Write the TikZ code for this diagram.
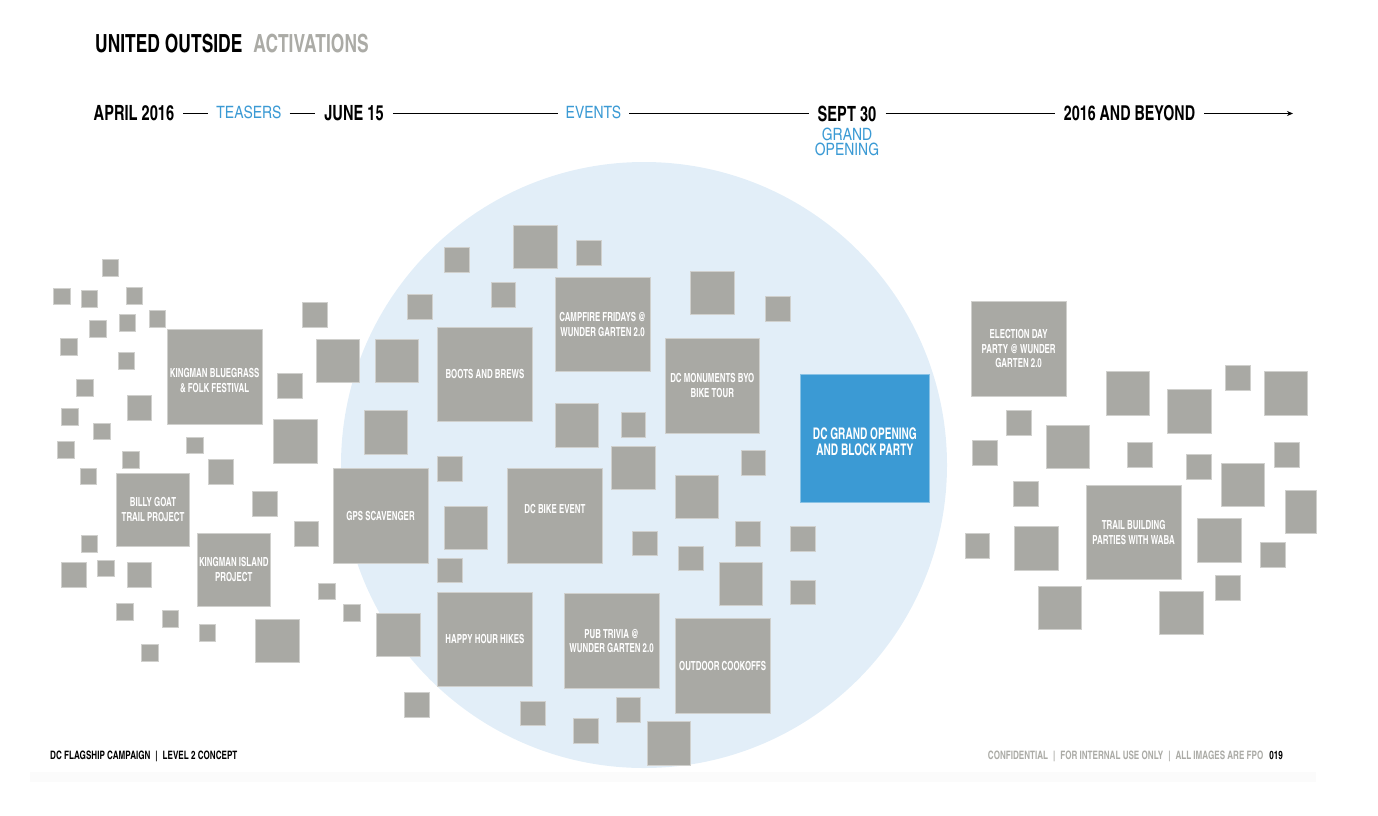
\documentclass[tikz,border=0pt]{standalone}
\usepackage{fontspec}
\setmainfont{texgyreheroscn}[Extension=.otf,UprightFont=*-regular,BoldFont=*-bold,FakeStretch=0.85]
\newfontfamily\widefont{texgyreheroscn}[Extension=.otf,UprightFont=*-regular,BoldFont=*-bold]
\newfontfamily\boxfont{texgyreheroscn}[Extension=.otf,UprightFont=*-bold,FakeStretch=0.77]
\usetikzlibrary{positioning,arrows.meta}
\definecolor{boxgray}{RGB}{169,169,164}
\definecolor{circblue}{RGB}{226,238,248}
\definecolor{mainblue}{RGB}{59,154,212}
\definecolor{titlegray}{RGB}{171,171,166}
\tikzset{
  box/.style={fill=boxgray, draw=boxgray!55!white, line width=0.5pt, anchor=north west,
    inner sep=0pt, text=white, align=center, font=\boxfont\fontsize{12.5}{14.5}\selectfont},
  sbox/.style={box, minimum size=16.5pt},
  mbox/.style={box, minimum size=24.5pt},
  lbox/.style={box, minimum size=43.3pt},
  gbox/.style={box, minimum size=73pt},
  ebox/.style={box, minimum size=94.7pt},
  stage/.style={inner xsep=9pt, inner ysep=0pt, font=\bfseries\fontsize{21}{21}\selectfont},
  phase/.style={inner xsep=8pt, inner ysep=0pt, text=mainblue, font=\widefont\fontsize{17}{16}\selectfont},
  tline/.style={line width=1.2pt},
}
\begin{document}
\begin{tikzpicture}[x=1pt,y=-1pt]
    \useasboundingbox (0,0) rectangle (1378,815);
    % backdrop
    \path[fill=circblue](644,465) circle[radius=303pt];
    \path[fill=black!1.5](30,772) rectangle (1316,782);
    % title
    \node[anchor=base west, inner sep=0pt, font=\bfseries\fontsize{25}{25}\selectfont] (title) at (95,52)
      {UNITED OUTSIDE\hspace{11pt}\textcolor{titlegray}{ACTIVATIONS}};
    % timeline
    \node[stage] (april) at (134,113.5) {APRIL 2016};
    \node[phase] (teasers) at (249,112.5) {TEASERS};
    \node[stage] (june) at (354,113.5) {JUNE 15};
    \node[phase] (events) at (593.5,112.5) {EVENTS};
    \node[stage] (sept) at (847,113.5) {SEPT 30};
    \node[phase, align=center, font=\widefont\fontsize{17}{15.5}\selectfont] (grand) at (847,142) {GRAND\\OPENING};
    \node[stage, font=\bfseries\fontsize{20.5}{21}\selectfont] (beyond) at (1129.5,113.5) {2016 AND BEYOND};
    \coordinate (end) at (1293,113.5);
    \path[draw, tline](april.east)to(april.east -| teasers.west);
    \path[draw, tline](teasers.east |- april.east)to(april.east -| june.west);
    \path[draw, tline](june.east)to(june.east -| events.west);
    \path[draw, tline](events.east |- june.east)to(june.east -| sept.west);
    \path[draw, tline](sept.east)to(beyond.west);
    \path[draw, tline, -{Stealth[length=6pt,width=5pt]}](beyond.east)to(end);
    % small squares
    \foreach \x/\y [count=\i] in {101.7/259.3, 53.3/287.7, 80.7/290, 125.7/287.3, 89/320, 118.7/314.3,
      148.7/310.3, 60/338, 117.7/352.3, 76.3/379.3, 61.3/408.3, 93.3/422.7, 57.3/441, 122/451.3,
      186/436.7, 79.7/467.7, 80.7/535, 97.3/559.7, 116/603.3, 161.7/610.3, 198.7/624.3, 141/644.3,
      318/582.7, 343/604.3}
      \node[sbox] (s\i) at (\x,\y) {};
    % medium squares
    \foreach \x/\y [count=\i] in {126.7/395, 208/459.3, 252.3/491.3, 277.3/373.3, 302.3/302.3,
      293.7/521.3, 61.3/562.3, 126.7/562.3, 407.3/294, 444/247.3, 576.3/240.3, 490.7/282,
      620.7/412.3, 437.3/456, 437.3/557.7, 632/530.7, 735/521, 790/526.3, 678/545.7, 790/579.7,
      740.7/450, 404/692.3, 520/700.7, 615.7/697, 573.3/718, 765.3/296,
      1225.3/365, 1006/410.3, 972.3/440, 1127.3/442, 1186/454, 1274/442, 1013.3/481,
      964.7/533, 1260.3/542.3, 1215/575.3}
      \node[mbox] (m\i) at (\x,\y) {};
    % large squares
    \foreach \x/\y [count=\i] in {273.3/419.3, 316/339, 375/339, 363.7/410.3, 513.3/225, 555/403.3,
      611.3/446, 444/505.7, 675/475, 718.7/562, 376.3/613, 647/721.3, 690.3/271, 255.3/619,
      1105.7/371.3, 1167.3/389.3, 1263.7/371.3, 1045.7/424.7, 1220.7/462.7, 1014.3/526.3,
      1197.3/518.3, 1038/586, 1159.3/591}
      \node[lbox] (l\i) at (\x,\y) {};
    \node[lbox, minimum width=31pt] (edge) at (1285.3,489.7) {};
    % teasers
    \node[ebox] (bluegrass) at (167,329.3) {\\[2pt]KINGMAN BLUEGRASS\\\& FOLK FESTIVAL};
    \node[gbox] (billygoat) at (116.3,472.7) {BILLY GOAT\\TRAIL PROJECT};
    \node[gbox] (island) at (197,532.7) {KINGMAN ISLAND\\PROJECT};
    % events
    \node[ebox] (boots) at (437.3,326.7) {BOOTS AND BREWS};
    \node[ebox] (campfire) at (555,276.7) {CAMPFIRE FRIDAYS @\\WUNDER GARTEN 2.0};
    \node[ebox] (monuments) at (664.7,338) {DC MONUMENTS BYO\\BIKE TOUR};
    \node[ebox] (gps) at (333,468.3) {GPS SCAVENGER};
    \node[ebox] (bike) at (507.3,468.3) {DC BIKE EVENT\\[0pt]};
    \node[ebox] (hikes) at (437.3,591.7) {HAPPY HOUR HIKES};
    \node[ebox] (trivia) at (564,593.3) {PUB TRIVIA @\\WUNDER GARTEN 2.0};
    \node[ebox] (cookoffs) at (675,618) {OUTDOOR COOKOFFS};
    % grand opening
    \node[box, minimum size=128.7pt, fill=mainblue, draw=mainblue!60!white,
      font=\boxfont\fontsize{16}{15.5}\selectfont] (opening) at (800.3,373.7)
      {\\[3pt]DC GRAND OPENING\\AND BLOCK PARTY};
    % beyond
    \node[ebox] (election) at (971,301) {ELECTION DAY\\PARTY @ WUNDER\\GARTEN 2.0};
    \node[ebox] (trail) at (1086,484.7) {TRAIL BUILDING\\PARTIES WITH WABA};
    % footer
    \node[anchor=base west, inner sep=0pt, font=\bfseries\fontsize{11.6}{11}\selectfont] (campaign) at (50,759)
      {DC FLAGSHIP CAMPAIGN\hspace{5pt}|\hspace{5pt}LEVEL 2 CONCEPT};
    \node[anchor=base east, inner sep=0pt, font=\bfseries\fontsize{11.6}{11}\selectfont] (page) at (1283,759)
      {\textcolor{titlegray}{CONFIDENTIAL\hspace{5pt}|\hspace{5pt}FOR INTERNAL USE ONLY\hspace{5pt}|\hspace{5pt}ALL IMAGES ARE FPO}\hspace{6pt}019};
\end{tikzpicture}
\end{document}
